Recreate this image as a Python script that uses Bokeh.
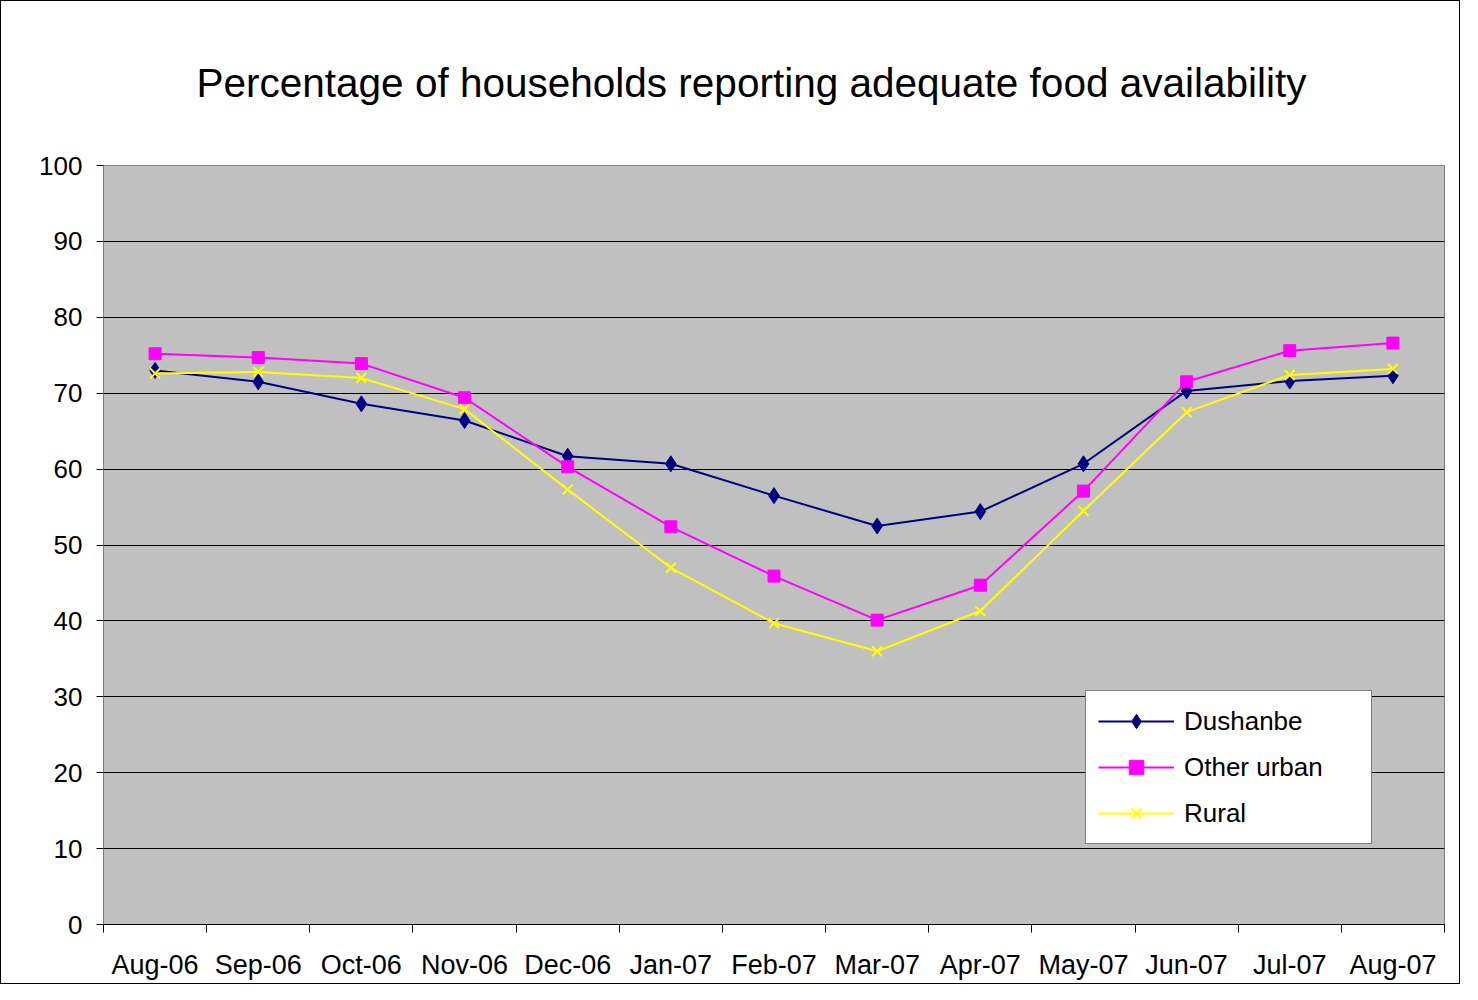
from bokeh.plotting import figure
from bokeh.models import FixedTicker, Legend, LegendItem, Range1d
from bokeh.embed import file_html
from bokeh.resources import INLINE

months = ["Aug-06", "Sep-06", "Oct-06", "Nov-06", "Dec-06", "Jan-07", "Feb-07",
          "Mar-07", "Apr-07", "May-07", "Jun-07", "Jul-07", "Aug-07"]
dushanbe = [73.0, 71.5, 68.6, 66.4, 61.7, 60.7, 56.5, 52.5, 54.4, 60.7, 70.3, 71.6, 72.3]
other_urban = [75.2, 74.7, 73.9, 69.4, 60.3, 52.4, 45.9, 40.1, 44.7, 57.1, 71.5, 75.6, 76.6]
rural = [72.6, 72.8, 72.0, 67.9, 57.3, 47.0, 39.7, 36.0, 41.3, 54.5, 67.5, 72.4, 73.2]
y_ticks = [0, 10, 20, 30, 40, 50, 60, 70, 80, 90, 100]
title_text = "Percentage of households reporting adequate food availability"

FONT = "Liberation Sans"
xs = list(range(len(months)))

p = figure(width=1460, height=984, output_backend="svg", toolbar_location=None,
           x_range=Range1d(-0.5, len(months) - 0.5), y_range=Range1d(0, 100),
           min_border_left=102, min_border_right=17, min_border_top=164, min_border_bottom=61,
           title=title_text)
p.styles = {"border": "1px solid black"}
p.background_fill_color = "#C0C0C0"
p.border_fill_color = "white"
p.outline_line_color = "#808080"

p.title.text_font = FONT
p.title.text_font_size = "40.5px"
p.title.text_font_style = "normal"
p.title.text_color = "black"
p.title.align = "left"
p.title.offset = 93
p.title.standoff = 116
p.title.vertical_align = "top"

# x axis: labels at category centres, ticks at boundaries
p.xaxis.ticker = FixedTicker(ticks=xs, minor_ticks=[i - 0.5 for i in range(len(months) + 1)])
p.xaxis.major_label_overrides = {i: m for i, m in enumerate(months)}
p.xaxis.major_tick_out = 0
p.xaxis.major_tick_in = 0
p.xaxis.minor_tick_out = 8
p.xaxis.minor_tick_in = 0
p.xaxis.minor_tick_line_color = "black"
p.xaxis.axis_line_color = "black"
p.xaxis.major_label_standoff = 17
p.xaxis.major_label_text_font = FONT
p.xaxis.major_label_text_font_size = "27px"
p.xaxis.major_label_text_color = "black"

p.yaxis.ticker = FixedTicker(ticks=y_ticks)
p.yaxis.major_tick_out = 7
p.yaxis.major_tick_in = 0
p.yaxis.minor_tick_line_color = None
p.yaxis.axis_line_color = "#808080"
p.yaxis.major_tick_line_color = "black"
p.yaxis.major_label_standoff = 14
p.yaxis.major_label_text_font = FONT
p.yaxis.major_label_text_font_size = "26px"
p.yaxis.major_label_text_color = "black"

p.xgrid.grid_line_color = None
p.ygrid.ticker = FixedTicker(ticks=y_ticks)
p.ygrid.grid_line_color = "black"
p.ygrid.grid_line_width = 1

l1 = p.line(xs, dushanbe, line_color="#000080", line_width=2)
m1 = p.scatter(xs, dushanbe, marker="diamond", size=16, fill_color="#000080", line_color="#000080")
l2 = p.line(xs, other_urban, line_color="#FF00FF", line_width=2)
m2 = p.scatter(xs, other_urban, marker="square", size=12, fill_color="#FF00FF", line_color="#FF00FF")
l3 = p.line(xs, rural, line_color="#FFFF00", line_width=2)
m3 = p.scatter(xs, rural, marker="x", size=14, line_color="#FFFF00", line_width=2)

legend = Legend(items=[
    LegendItem(label="Dushanbe", renderers=[l1, m1]),
    LegendItem(label="Other urban", renderers=[l2, m2]),
    LegendItem(label="Rural", renderers=[l3, m3]),
], location=(982, 80))
legend.border_line_color = "black"
legend.border_line_width = 1
legend.background_fill_color = "white"
legend.background_fill_alpha = 1
legend.padding = 12
legend.margin = 0
legend.spacing = 10
legend.glyph_height = 36
legend.label_height = 36
legend.glyph_width = 76
legend.label_standoff = 10
legend.label_width = 175
legend.label_text_font = FONT
legend.label_text_font_size = "26px"
legend.label_text_color = "black"
p.add_layout(legend)

open("out.html", "w").write(file_html(p, INLINE))
